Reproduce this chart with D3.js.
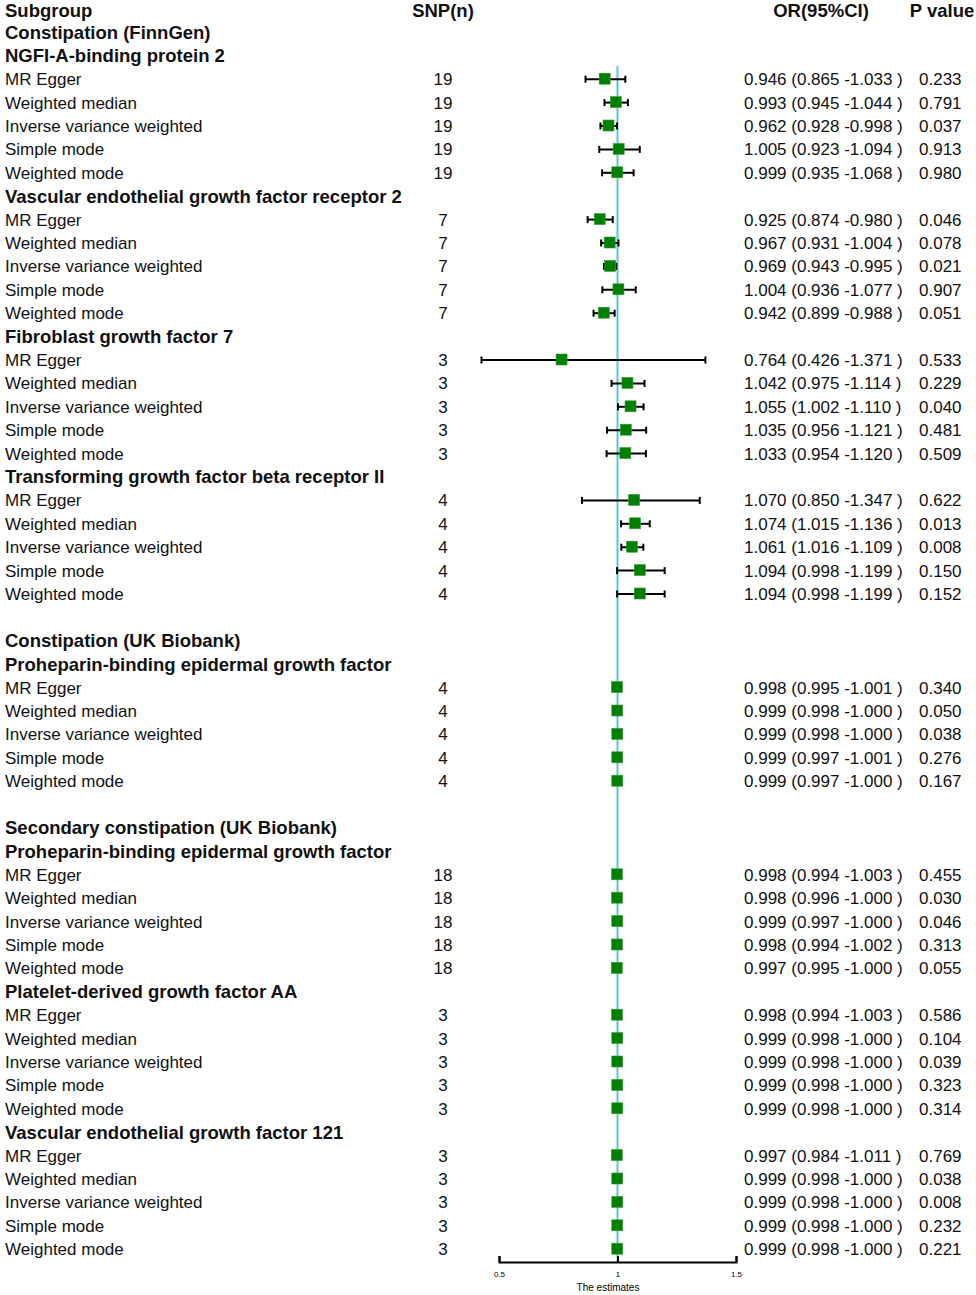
<!DOCTYPE html>
<html>
<head>
<meta charset="utf-8">
<script src="https://cdn.jsdelivr.net/npm/d3@7"></script>
<style>
  body { margin: 0; background: #fff; }
  svg text { font-family: "Liberation Sans", Arial, sans-serif; }
</style>
</head>
<body>
<div id="chart"></div>
<script>
// data
const outcomes = ["Constipation (FinnGen)", "Constipation (UK Biobank)", "Secondary constipation (UK Biobank)"];
const exposures = [
  "NGFI-A-binding protein 2",
  "Vascular endothelial growth factor receptor 2",
  "Fibroblast growth factor 7",
  "Transforming growth factor beta receptor II",
  "Proheparin-binding epidermal growth factor",
  "Proheparin-binding epidermal growth factor",
  "Platelet-derived growth factor AA",
  "Vascular endothelial growth factor 121"
];
const exposureOutcome = [0, 0, 0, 0, 1, 2, 2, 2];
const methods = ["MR Egger", "Weighted median", "Inverse variance weighted", "Simple mode", "Weighted mode"];
const snpCounts = [19, 7, 3, 4, 4, 18, 3, 3];

const orEst = [
  0.946, 0.993, 0.962, 1.005, 0.999,
  0.925, 0.967, 0.969, 1.004, 0.942,
  0.764, 1.042, 1.055, 1.035, 1.033,
  1.070, 1.074, 1.061, 1.094, 1.094,
  0.998, 0.999, 0.999, 0.999, 0.999,
  0.998, 0.998, 0.999, 0.998, 0.997,
  0.998, 0.999, 0.999, 0.999, 0.999,
  0.997, 0.999, 0.999, 0.999, 0.999
];
const orLow = [
  0.865, 0.945, 0.928, 0.923, 0.935,
  0.874, 0.931, 0.943, 0.936, 0.899,
  0.426, 0.975, 1.002, 0.956, 0.954,
  0.850, 1.015, 1.016, 0.998, 0.998,
  0.995, 0.998, 0.998, 0.997, 0.997,
  0.994, 0.996, 0.997, 0.994, 0.995,
  0.994, 0.998, 0.998, 0.998, 0.998,
  0.984, 0.998, 0.998, 0.998, 0.998
];
const orHigh = [
  1.033, 1.044, 0.998, 1.094, 1.068,
  0.980, 1.004, 0.995, 1.077, 0.988,
  1.371, 1.114, 1.110, 1.121, 1.120,
  1.347, 1.136, 1.109, 1.199, 1.199,
  1.001, 1.000, 1.000, 1.001, 1.000,
  1.003, 1.000, 1.000, 1.002, 1.000,
  1.003, 1.000, 1.000, 1.000, 1.000,
  1.011, 1.000, 1.000, 1.000, 1.000
];
const pValues = [
  "0.233", "0.791", "0.037", "0.913", "0.980",
  "0.046", "0.078", "0.021", "0.907", "0.051",
  "0.533", "0.229", "0.040", "0.481", "0.509",
  "0.622", "0.013", "0.008", "0.150", "0.152",
  "0.340", "0.050", "0.038", "0.276", "0.167",
  "0.455", "0.030", "0.046", "0.313", "0.055",
  "0.586", "0.104", "0.039", "0.323", "0.314",
  "0.769", "0.038", "0.008", "0.232", "0.221"
];
const axisTicks = [0.5, 1, 1.5];

// build the table rows: header, outcome, exposure, method rows, blanks between outcomes
let rows = [];
let lastOutcome = -1;
exposures.forEach(function(exp, e) {
  let o = exposureOutcome[e];
  if (o !== lastOutcome) {
    if (lastOutcome >= 0) rows.push({kind: "blank"});
    rows.push({kind: "head", label: outcomes[o]});
    lastOutcome = o;
  }
  rows.push({kind: "head", label: exp});
  methods.forEach(function(m, k) {
    let i = e * methods.length + k;
    rows.push({kind: "item", label: m, snp: snpCounts[e], est: orEst[i], lo: orLow[i], hi: orHigh[i], p: pValues[i]});
  });
});

const width = 976, height = 1295;
const svg = d3.select("#chart").append("svg")
    .attr("width", width)
    .attr("height", height);

// row 0 is the column header
let y = d3.scaleLinear().domain([0, rows.length]).range([9, 9 + 23.4 * rows.length]);
let x = d3.scaleLinear().domain([0.5, 1.5]).range([499, 736]);

const axisY = 1262;
const boldSize = 18.5;
const headY = y(0) + 1.5;   // nudged so the header glyphs stay inside the page

// column headers
const head = svg.append("g").attr("font-weight", "bold").attr("font-size", boldSize).attr("fill", "#111");
head.append("text").attr("x", 5).attr("y", headY).attr("dy", "0.35em").text("Subgroup");
head.append("text").attr("x", 443).attr("y", headY).attr("dy", "0.35em").attr("text-anchor", "middle").text("SNP(n)");
head.append("text").attr("x", 821).attr("y", headY).attr("dy", "0.35em").attr("text-anchor", "middle").text("OR(95%CI)");
head.append("text").attr("x", 942).attr("y", headY).attr("dy", "0.35em").attr("text-anchor", "middle").text("P value");

// reference line at 1
svg.append("line")
    .attr("x1", x(1)).attr("x2", x(1))
    .attr("y1", 66).attr("y2", axisY)
    .attr("stroke", "#5cc5d5")
    .attr("stroke-width", 2);

let rowG = svg.selectAll("g.row")
    .data(rows)
    .enter()
    .append("g")
    .attr("class", "row")
    .attr("transform", function(d, i) { return `translate(0, ${y(i + 1)})`; });

rowG.filter(d => d.kind !== "blank")
    .append("text")
    .attr("x", 5)
    .attr("dy", "0.35em")
    .attr("font-size", d => d.kind === "head" ? boldSize : 17)
    .attr("font-weight", d => d.kind === "head" ? "bold" : "normal")
    .attr("fill", "#111")
    .text(d => d.label);

let items = rowG.filter(d => d.kind === "item");

items.append("text")
    .attr("x", 443)
    .attr("dy", "0.35em")
    .attr("text-anchor", "middle")
    .attr("font-size", 17)
    .attr("fill", "#111")
    .text(d => d.snp);

items.append("text")
    .attr("x", 744)
    .attr("dy", "0.35em")
    .attr("font-size", 17)
    .attr("fill", "#111")
    .text(d => `${d.est.toFixed(3)} (${d.lo.toFixed(3)} -${d.hi.toFixed(3)} )`);

items.append("text")
    .attr("x", 919)
    .attr("dy", "0.35em")
    .attr("font-size", 17)
    .attr("fill", "#111")
    .text(d => d.p);

// confidence intervals with end caps
items.append("line")
    .attr("x1", d => x(d.lo)).attr("x2", d => x(d.hi))
    .attr("stroke", "#000").attr("stroke-width", 2);
items.append("line")
    .attr("x1", d => x(d.lo)).attr("x2", d => x(d.lo))
    .attr("y1", -3.5).attr("y2", 3.5)
    .attr("stroke", "#000").attr("stroke-width", 2);
items.append("line")
    .attr("x1", d => x(d.hi)).attr("x2", d => x(d.hi))
    .attr("y1", -3.5).attr("y2", 3.5)
    .attr("stroke", "#000").attr("stroke-width", 2);

// point estimate squares
items.append("rect")
    .attr("x", d => x(d.est) - 5.5)
    .attr("y", -6)
    .attr("width", 11)
    .attr("height", 11)
    .attr("fill", "#008000")
    .attr("stroke", "#3a9a3a")
    .attr("stroke-width", 0.6);

// x axis
let axis = svg.append("g")
    .attr("transform", `translate(0, ${axisY})`)
    .call(d3.axisBottom(x).tickValues(axisTicks).tickFormat(d3.format("")).tickSize(-6).tickPadding(9));
axis.select(".domain").attr("stroke-width", 2);
axis.selectAll(".tick line").attr("stroke-width", 2);
axis.selectAll(".tick text").attr("font-size", 8).attr("font-family", "Liberation Sans, Arial, sans-serif");

svg.append("text")
    .attr("x", 608)
    .attr("y", 1287)
    .attr("dy", "0.35em")
    .attr("text-anchor", "middle")
    .attr("font-size", 10)
    .text("The estimates");
</script>
</body>
</html>
